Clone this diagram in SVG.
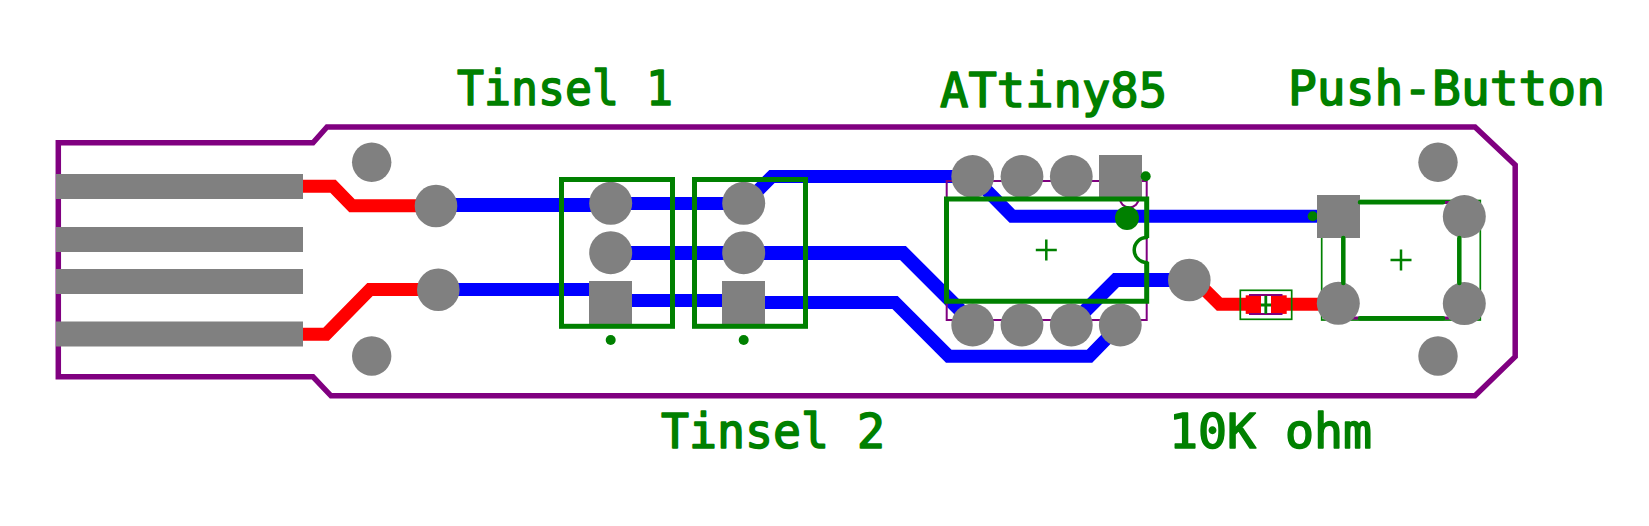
<svg xmlns="http://www.w3.org/2000/svg" width="1649" height="526" viewBox="0 0 1649 526">
<style>
.board{fill:none;stroke:#800080;stroke-width:5.5}
.thin{fill:none;stroke:#800080;stroke-width:2}
.blue{fill:none;stroke:#0000ff;stroke-width:13}
.red{fill:none;stroke:#ff0000;stroke-width:13}
.pad{fill:#808080}
.silk{fill:none;stroke:#008000;stroke-width:5}
.silkm{fill:none;stroke:#008000;stroke-width:4.5;stroke-linecap:round}
.cross{fill:none;stroke:#008000;stroke-width:2.5}
.silkt{fill:none;stroke:#008000;stroke-width:1.7}
.dot{fill:#008000}
.lbl{font-family:"DejaVu Sans Mono","Liberation Mono",monospace;font-size:48px;fill:#008000;stroke:#008000;stroke-width:1.6;stroke-linejoin:round}
</style>
<rect width="1649" height="526" fill="#ffffff"/>
<g id="board-outline"><path class="board" d="M58.3 142.8H313L327 127H1475L1515.2 165V356.7L1475 395.8H331L313 376.8H58.3Z"/></g>
<g id="connectors">
<path class="red" d="M303 186.3H333L352 205.7H436"/>
<path class="red" d="M303 334.3H326L370 289.5H438"/>
<path class="red" d="M1195 280L1219.5 304.3H1261"/>
<path class="red" d="M1271 304.3H1339"/>
<path class="blue" style="stroke-width:14" d="M436 205H611"/>
<path class="blue" d="M611 203.5H745L772 176.5H973L1012.3 216.3H1338"/>
<path class="blue" style="stroke-width:14" d="M611 253H903L973 323"/>
<path class="blue" d="M438 289.5H611V300.5H744V302.5H895L948.7 356.2H1089.5L1120 325"/>
<path class="blue" style="stroke-width:14" d="M1071 325L1116 280H1190"/>
</g>
<g id="usb-pads">
<rect class="pad" x="56" y="174" width="247" height="25"/>
<rect class="pad" x="56" y="227" width="247" height="25"/>
<rect class="pad" x="56" y="269" width="247" height="25"/>
<rect class="pad" x="56" y="321.5" width="247" height="25"/>
</g>
<g id="mount-holes">
<circle class="pad" cx="371.7" cy="162.3" r="19.7"/>
<circle class="pad" cx="371.7" cy="356" r="19.7"/>
<circle class="pad" cx="1438" cy="162.3" r="19.7"/>
<circle class="pad" cx="1438" cy="356" r="19.7"/>
</g>
<g id="vias">
<circle class="pad" cx="436" cy="206" r="21.3"/>
<circle class="pad" cx="438.3" cy="289.7" r="21.3"/>
<circle class="pad" cx="1189.3" cy="280" r="21.3"/>
</g>
<g id="tinsel-1">
<circle class="pad" cx="610.7" cy="203.3" r="21.5"/>
<circle class="pad" cx="610.7" cy="252.7" r="21.5"/>
<rect class="pad" x="589" y="281" width="43" height="43"/>
<rect class="silk" x="561.5" y="179.5" width="111" height="146.8"/>
<circle class="dot" cx="610.7" cy="340" r="5"/>
</g>
<g id="tinsel-2">
<circle class="pad" cx="743.7" cy="203.3" r="21.5"/>
<circle class="pad" cx="743.7" cy="252.7" r="21.5"/>
<rect class="pad" x="722" y="281" width="43" height="43"/>
<rect class="silk" x="694.5" y="179.5" width="111" height="146.8"/>
<circle class="dot" cx="743.7" cy="340" r="5"/>
</g>
<g id="attiny85">
<rect class="thin" x="946.7" y="181" width="200" height="139"/>
<path class="thin" d="M1119.8 198A9.5 9.5 0 0 0 1138.8 198"/>
<circle class="pad" cx="972.7" cy="176.5" r="21.4"/>
<circle class="pad" cx="1022" cy="176.5" r="21.4"/>
<circle class="pad" cx="1071.3" cy="176.5" r="21.4"/>
<rect class="pad" x="1099" y="155" width="43" height="43"/>
<circle class="pad" cx="972.7" cy="325" r="21.4"/>
<circle class="pad" cx="1022" cy="325" r="21.4"/>
<circle class="pad" cx="1071.3" cy="325" r="21.4"/>
<circle class="pad" cx="1120.3" cy="325" r="21.4"/>
<path class="silk" d="M1146.7 238V199H946.5V301.3H1146.7V261.7"/>
<path class="silkm" style="stroke-width:3.5" d="M1146.7 237.5A12.5 12.5 0 0 0 1146.7 262.5"/>
<circle class="dot" cx="1127" cy="218" r="12"/>
<circle class="dot" cx="1145.7" cy="176.3" r="5"/>
<path class="cross" d="M1046.3 239.5V260.5M1035.8 250H1056.8"/>
</g>
<g id="resistor">
<rect x="1245.7" y="295.3" width="15.3" height="18.6" fill="#ff0000"/>
<rect x="1271" y="295.3" width="15.7" height="18.6" fill="#ff0000"/>
<path class="thin" d="M1249 295H1282.5M1249 314H1282.5"/>
<rect class="silkt" x="1240.3" y="290.3" width="51.4" height="29"/>
<path class="cross" style="stroke-width:2.8" d="M1265.8 295.7V313.7M1261 305H1271"/>
</g>
<g id="push-button">
<rect class="silkt" x="1321.7" y="200.5" width="158.6" height="119.5"/>
<path stroke="#800080" stroke-width="3" fill="none" d="M1352 202.5H1449M1352 318H1449"/>
<circle class="dot" cx="1312.7" cy="216.3" r="5"/>
<rect class="pad" x="1317" y="195" width="43" height="43"/>
<circle class="pad" cx="1338.3" cy="303.3" r="21.5"/>
<circle class="pad" cx="1464.3" cy="216.5" r="21.5"/>
<circle class="pad" cx="1464.3" cy="303.6" r="21.5"/>
<path class="silkm" d="M1360 202.3H1443M1360 318.3H1443M1343.3 238V283M1459.3 238V283"/>
<path class="cross" d="M1401 249.5V270.5M1390.5 260H1411.5"/>
</g>
<g id="labels">
<text class="lbl" x="457" y="105" textLength="216" lengthAdjust="spacingAndGlyphs">Tinsel 1</text>
<text class="lbl" x="940" y="107" textLength="227" lengthAdjust="spacingAndGlyphs">ATtiny85</text>
<text class="lbl" x="1288" y="105" textLength="317" lengthAdjust="spacingAndGlyphs">Push-Button</text>
<text class="lbl" x="661" y="448" textLength="224" lengthAdjust="spacingAndGlyphs">Tinsel 2</text>
<text class="lbl" x="1169" y="448" textLength="203" lengthAdjust="spacingAndGlyphs">10K ohm</text>
</g>
</svg>
